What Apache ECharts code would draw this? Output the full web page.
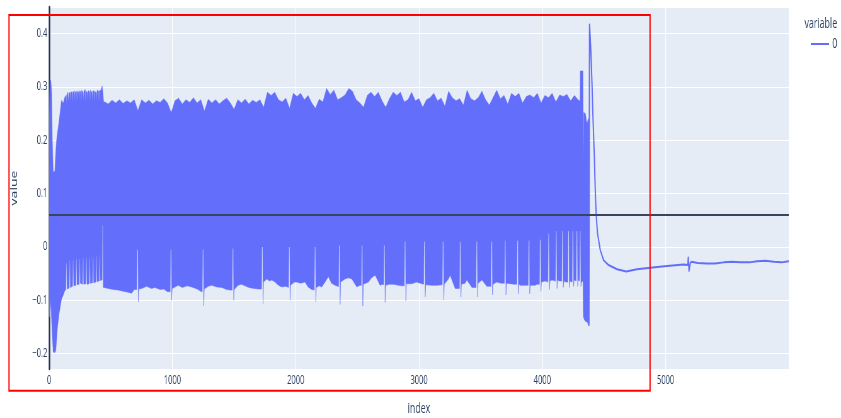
<!DOCTYPE html>
<html>
<head>
<meta charset="utf-8">
<script src="https://cdn.jsdelivr.net/npm/echarts@6/dist/echarts.min.js"></script>
<style>
html, body { margin: 0; padding: 0; background: #fff; overflow: hidden; }
#wrap { width: 841px; height: 418px; overflow: hidden; }
/* the source picture is squeezed horizontally, so draw wide and squeeze */
#chart { width: 1335px; height: 418px; transform: scaleX(0.63); transform-origin: 0 0; }
</style>
</head>
<body>
<div id="wrap"><div id="chart"></div></div>
<script>
// upper edge of the oscillation, [index, value]
const startHigh = [
	[0, 0.25], [6, 0.312], [14, 0.312], [20, 0.29], [26, 0.2], [33, 0.14], [46, 0.142], [54, 0.18], [60, 0.2],
	[68, 0.215], [81, 0.237], [100, 0.275], [115, 0.27], [127, 0.281],
	[136, 0.284], [139, 0.27], [142, 0.285], [152, 0.29], [156, 0.272], [160, 0.288], [170, 0.29], [173, 0.272],
	[176, 0.29], [188, 0.291], [191, 0.27], [194, 0.29], [205, 0.293], [208, 0.274], [211, 0.29], [222, 0.292],
	[225, 0.272], [228, 0.292], [240, 0.29], [243, 0.274], [246, 0.293], [257, 0.291], [260, 0.272], [263, 0.294],
	[275, 0.29], [278, 0.274], [281, 0.292], [293, 0.295], [296, 0.272], [299, 0.292], [311, 0.29], [314, 0.274],
	[317, 0.293], [329, 0.291], [332, 0.272], [335, 0.294], [347, 0.29], [350, 0.274], [353, 0.292], [365, 0.293],
	[368, 0.272], [371, 0.291], [383, 0.29], [386, 0.274], [389, 0.294], [401, 0.292], [404, 0.272], [407, 0.293],
	[420, 0.294], [430, 0.302], [436, 0.29], [442, 0.272]
]

// upper edge from index 450 to 4290, one value every 30
const mainHighStart = 450
const mainHighStep = 30
const mainHigh = [
	0.272, 0.268, 0.275, 0.27, 0.276, 0.269, 0.274, 0.27, 0.276, 0.256,
	0.276, 0.27, 0.275, 0.268, 0.274, 0.271, 0.278, 0.27, 0.252, 0.274,
	0.279, 0.268, 0.276, 0.271, 0.28, 0.27, 0.276, 0.255, 0.277, 0.27,
	0.276, 0.268, 0.274, 0.279, 0.27, 0.258, 0.276, 0.27, 0.277, 0.268,
	0.275, 0.271, 0.276, 0.262, 0.29, 0.284, 0.29, 0.276, 0.272, 0.279,
	0.26, 0.288, 0.282, 0.288, 0.276, 0.284, 0.27, 0.26, 0.277, 0.272,
	0.297, 0.286, 0.294, 0.276, 0.28, 0.285, 0.297, 0.292, 0.276, 0.27,
	0.262, 0.284, 0.29, 0.282, 0.29, 0.274, 0.262, 0.278, 0.29, 0.284,
	0.29, 0.272, 0.276, 0.29, 0.274, 0.278, 0.262, 0.276, 0.28, 0.288,
	0.274, 0.279, 0.264, 0.292, 0.28, 0.274, 0.278, 0.266, 0.294, 0.278,
	0.274, 0.28, 0.292, 0.276, 0.266, 0.28, 0.294, 0.278, 0.284, 0.268,
	0.288, 0.282, 0.288, 0.27, 0.282, 0.285, 0.28, 0.288, 0.27, 0.284,
	0.28, 0.288, 0.272, 0.285, 0.282, 0.286, 0.274, 0.284, 0.276
]

const endHigh = [
	[4300, 0.274], [4306, 0.274], [4308, 0.33], [4330, 0.33], [4333, 0.157], [4336, 0.252], [4350, 0.25],
	[4362, 0.231], [4372, 0.24], [4378, 0.24]
]

// lower edge, [index, value]; short white gaps and dips at the resets
const startLow = [
	[0, -0.13], [6, -0.131], [14, -0.1], [20, -0.14], [26, -0.17], [33, -0.197], [46, -0.198], [54, -0.195],
	[60, -0.175], [68, -0.15], [81, -0.125], [100, -0.098], [115, -0.09], [127, -0.082],
	[136, -0.08], [139, -0.03], [142, -0.03], [145, -0.079],
	[163, -0.077], [166, -0.025], [169, -0.025], [172, -0.076],
	[190, -0.074], [193, -0.025], [196, -0.025], [199, -0.073],
	[217, -0.072], [220, -0.022], [223, -0.022], [226, -0.071],
	[244, -0.07], [247, -0.022], [250, -0.022], [253, -0.068],
	[271, -0.07], [274, -0.02], [277, -0.02], [280, -0.07],
	[298, -0.069], [301, -0.02], [304, -0.02], [307, -0.07],
	[325, -0.069], [328, -0.02], [331, -0.02], [334, -0.068],
	[352, -0.067], [355, -0.018], [358, -0.018], [361, -0.067],
	[379, -0.066], [382, -0.018], [385, -0.018], [388, -0.065],
	[406, -0.064], [409, -0.016], [412, -0.016], [415, -0.063],
	[426, -0.062], [430, -0.062], [432, 0.04], [436, 0.04], [439, -0.076], [444, -0.076]
]

const mainLow = [
	[480, -0.078], [520, -0.08], [560, -0.081], [600, -0.083], [640, -0.085], [669, -0.087], [690, -0.08],
	[711, -0.08], [714, -0.005], [720, -0.005], [723, -0.103], [727, -0.079],
	[750, -0.078], [790, -0.074], [830, -0.078], [858, -0.076], [900, -0.08], [930, -0.079], [960, -0.084],
	[982, -0.084], [985, -0.005], [991, -0.005], [994, -0.1], [998, -0.078],
	[1047, -0.072], [1080, -0.076], [1120, -0.073], [1156, -0.075], [1200, -0.079], [1237, -0.084],
	[1242, -0.084], [1245, -0.005], [1251, -0.005], [1254, -0.111], [1258, -0.079],
	[1290, -0.074], [1318, -0.072], [1360, -0.075], [1400, -0.076], [1440, -0.08], [1470, -0.081],
	[1485, -0.081], [1488, -0.003], [1494, -0.003], [1497, -0.1], [1501, -0.08],
	[1532, -0.072], [1560, -0.07], [1588, -0.073], [1620, -0.076], [1660, -0.078], [1700, -0.079],
	[1723, -0.079], [1726, 0], [1732, 0], [1735, -0.107], [1739, -0.066],
	[1765, -0.06], [1790, -0.064], [1805, -0.062], [1832, -0.066], [1860, -0.072], [1886, -0.075], [1920, -0.074],
	[1942, -0.076], [1945, 0], [1951, 0], [1954, -0.1], [1958, -0.072],
	[1967, -0.07], [1990, -0.066], [2008, -0.066], [2040, -0.068], [2075, -0.066], [2100, -0.075], [2130, -0.08],
	[2151, -0.081], [2154, 0], [2160, 0], [2163, -0.103], [2167, -0.076],
	[2190, -0.073], [2211, -0.075], [2238, -0.066], [2265, -0.056], [2290, -0.068], [2319, -0.072], [2340, -0.074],
	[2348, -0.074], [2351, 0.003], [2357, 0.003], [2360, -0.108], [2364, -0.066],
	[2400, -0.06], [2427, -0.058], [2455, -0.06], [2495, -0.075], [2520, -0.072],
	[2532, -0.072], [2535, 0.003], [2541, 0.003], [2544, -0.111], [2548, -0.07],
	[2590, -0.066], [2615, -0.058], [2644, -0.053], [2684, -0.072], [2705, -0.07],
	[2713, -0.071], [2716, 0.003], [2722, 0.003], [2725, -0.104], [2729, -0.072],
	[2760, -0.07], [2792, -0.07], [2833, -0.072], [2860, -0.073],
	[2881, -0.073], [2884, 0.01], [2890, 0.01], [2893, -0.101], [2897, -0.069],
	[2941, -0.069], [2980, -0.066], [3023, -0.069],
	[3038, -0.07], [3041, 0.01], [3047, 0.01], [3050, -0.094], [3054, -0.071],
	[3104, -0.072], [3150, -0.072], [3185, -0.071],
	[3189, -0.071], [3192, 0.01], [3198, 0.01], [3201, -0.1], [3205, -0.07],
	[3239, -0.06], [3252, -0.053], [3293, -0.078],
	[3328, -0.078], [3331, 0.01], [3337, 0.01], [3340, -0.094], [3344, -0.07],
	[3374, -0.068], [3388, -0.062], [3429, -0.076],
	[3463, -0.076], [3466, 0.01], [3472, 0.01], [3475, -0.094], [3479, -0.068],
	[3510, -0.062], [3550, -0.074],
	[3584, -0.074], [3587, 0.01], [3593, 0.01], [3596, -0.09], [3600, -0.07],
	[3631, -0.066], [3665, -0.068],
	[3693, -0.068], [3696, 0.012], [3702, 0.012], [3705, -0.09], [3709, -0.068],
	[3740, -0.069], [3770, -0.07],
	[3794, -0.07], [3797, 0.012], [3803, 0.012], [3806, -0.088], [3810, -0.07],
	[3820, -0.072], [3847, -0.072],
	[3886, -0.072], [3889, 0.012], [3895, 0.012], [3898, -0.088], [3902, -0.072],
	[3943, -0.072], [3956, -0.07],
	[3977, -0.07], [3980, 0.014], [3986, 0.014], [3989, -0.084], [3993, -0.066],
	[4024, -0.064],
	[4046, -0.066], [4049, 0.025], [4055, 0.025], [4058, -0.08], [4062, -0.064],
	[4078, -0.062],
	[4107, -0.064], [4110, 0.03], [4116, 0.03], [4119, -0.078], [4123, -0.062],
	[4140, -0.064],
	[4158, -0.064], [4161, 0.03], [4167, 0.03], [4170, -0.076], [4174, -0.064],
	[4190, -0.066],
	[4207, -0.066], [4210, 0.03], [4216, 0.03], [4219, -0.076], [4223, -0.064]
]

const endLow = [
	[4242, -0.066], [4245, 0.03], [4251, 0.03], [4254, -0.074], [4258, -0.062],
	[4275, -0.064], [4278, 0.03], [4284, 0.03], [4287, -0.074], [4291, -0.062],
	[4302, -0.064], [4305, 0.03], [4310, 0.03], [4313, -0.074], [4318, -0.066], [4330, -0.064],
	[4333, -0.13], [4338, -0.135], [4350, -0.14], [4362, -0.14], [4372, -0.145], [4378, -0.148]
]

// after the big spike the signal is a single line, [index, value]
const tailPts = [
	[4383, 0.417], [4394, 0.368], [4403, 0.306], [4411, 0.243], [4422, 0.17], [4429, 0.11], [4437, 0.06], [4448, 0.025],
	[4470, -0.006], [4497, -0.025], [4537, -0.034], [4606, -0.042], [4681, -0.046], [4768, -0.042], [4876, -0.039],
	[5011, -0.036], [5146, -0.033], [5180, -0.034], [5184, -0.02], [5190, -0.045], [5200, -0.03], [5211, -0.028],
	[5260, -0.03], [5336, -0.031], [5400, -0.031], [5471, -0.029], [5540, -0.028], [5606, -0.029], [5680, -0.029],
	[5742, -0.027], [5810, -0.026], [5877, -0.028], [5940, -0.029], [5999, -0.027]
]

const hlineValue = 0.056

const highEdge = startHigh.concat(mainHigh.map((v, i) => [mainHighStart + i * mainHighStep, v]), endHigh)
const lowEdge = startLow.concat(mainLow, endLow)
const tailLine = [lowEdge[lowEdge.length - 1]].concat(tailPts)

const blue = "#636efa"
const txt = "#2a3f5f"
const font = "Open Sans"

// the dense part is drawn as one filled band, the rest as a line
function renderSignal(params, api) {
	if (params.dataIndex !== 0) {
		return null
	}
	const top = highEdge.map(p => api.coord(p))
	const bottom = lowEdge.map(p => api.coord(p)).reverse()
	return {
		type: "group",
		children: [
			{
				type: "polygon",
				shape: { points: top.concat(bottom) },
				style: { fill: blue, stroke: blue, lineWidth: 0.5 }
			},
			{
				type: "polyline",
				shape: { points: tailLine.map(p => api.coord(p)) },
				style: { fill: null, stroke: blue, lineWidth: 2, lineJoin: "round" }
			}
		]
	}
}

const chart = echarts.init(document.getElementById("chart"))

let option = {
	animation: false,
	title: {
		text: "variable",
		left: 1272,
		top: 12,
		textStyle: { fontFamily: font, fontSize: 14, fontWeight: "normal", color: txt }
	},
	legend: {
		data: ["0"],
		left: 1282,
		top: 32,
		icon: "rect",
		itemWidth: 29,
		itemHeight: 2,
		textStyle: { fontFamily: font, fontSize: 14, color: txt }
	},
	grid: {
		left: 78,
		right: 83,
		top: 7,
		bottom: 49,
		outerBoundsMode: "none",
		containLabel: false,
		show: true,
		backgroundColor: "#e5ecf6",
		borderWidth: 0
	},
	xAxis: {
		type: "value",
		min: 0,
		max: 5999,
		interval: 1000,
		name: "index",
		nameLocation: "middle",
		nameGap: 33,
		nameTextStyle: { fontFamily: font, fontSize: 14, color: txt },
		axisLine: { show: false },
		axisTick: { show: false },
		axisLabel: { margin: 6, fontFamily: font, fontSize: 12, color: txt, showMaxLabel: false, formatter: v => String(v) },
		splitLine: { lineStyle: { color: "#ffffff", width: 1 } }
	},
	yAxis: {
		type: "value",
		min: -0.229,
		max: 0.45,
		splitNumber: 7,
		name: "value",
		nameLocation: "middle",
		nameGap: 48,
		nameTextStyle: { fontFamily: font, fontSize: 14, color: txt },
		axisLine: { show: true, onZero: false, lineStyle: { color: "#223050", width: 2.5 } },
		axisTick: { show: false },
		axisLabel: {
			margin: 3,
			fontFamily: font,
			fontSize: 12,
			color: txt,
			showMinLabel: false,
			showMaxLabel: false,
			formatter: v => String(Math.round(v * 10) / 10).replace("-", "\u2212")
		},
		splitLine: { lineStyle: { color: "#ffffff", width: 1 } }
	},
	series: [
		{
			name: "0",
			type: "custom",
			data: lowEdge,
			encode: { x: 0, y: 1 },
			renderItem: renderSignal,
			clip: true,
			silent: true,
			itemStyle: { color: blue },
			markLine: {
				silent: true,
				symbol: ["none", "none"],
				label: { show: false },
				lineStyle: { color: "#39455e", width: 2, type: "solid", opacity: 1 },
				data: [{ yAxis: hlineValue }]
			}
		}
	],
	graphic: [
		{
			type: "rect",
			z: 100,
			shape: { x: 14.3, y: 15, width: 1017.5, height: 375.7 },
			style: { fill: "none", stroke: "#ff0000", lineWidth: 2 }
		}
	]
}

chart.setOption(option)
</script>
</body>
</html>
